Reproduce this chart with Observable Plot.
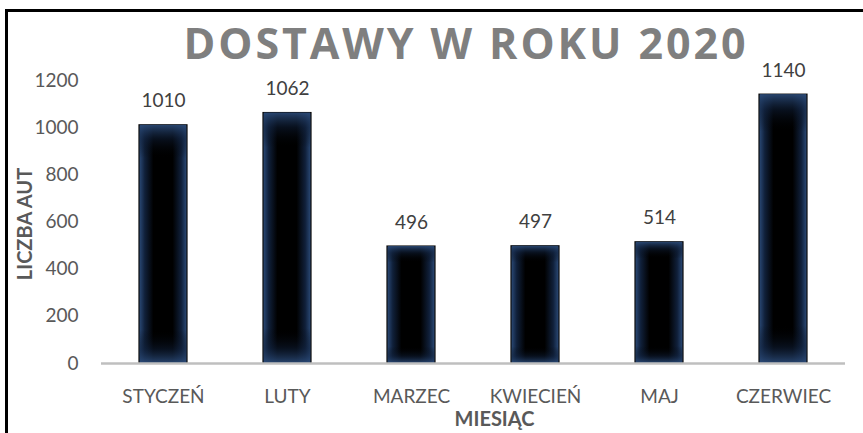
<!DOCTYPE html>
<html>
<head>
<meta charset="utf-8">
<script src="https://cdn.jsdelivr.net/npm/d3@7"></script>
<script src="https://cdn.jsdelivr.net/npm/@observablehq/plot@0.6"></script>
<style>
  html, body { margin: 0; padding: 0; background: #fff; }
  #wrap { position: relative; width: 863px; height: 433px; overflow: hidden; }
  #frame { position: absolute; left: 5px; top: 9px; right: -10px; bottom: -10px;
           border-top: 3px solid #000; border-left: 3px solid #000; pointer-events: none; }
</style>
</head>
<body>
<div id="wrap"><div id="frame"></div></div>
<script>
const months = ["STYCZEŃ", "LUTY", "MARZEC", "KWIECIEŃ", "MAJ", "CZERWIEC"];
const values = [1010, 1062, 496, 497, 514, 1140];
const yTicks = [0, 200, 400, 600, 800, 1000, 1200];
const title = "DOSTAWY W ROKU 2020";
const yLabel = "LICZBA AUT";
const xLabel = "MIESIĄC";

const data = months.map((m, i) => ({month: m, value: values[i]}));
const font = "Lato, 'Open Sans', sans-serif";

const plot = Plot.plot({
  width: 863,
  height: 433,
  marginLeft: 101,
  marginRight: 18,
  marginTop: 80,
  marginBottom: 70,
  style: {fontFamily: font, fontSize: "19px", color: "#595959", background: "transparent", overflow: "visible"},
  x: {domain: months, paddingInner: 0.61, paddingOuter: 0.305, label: null},
  y: {domain: [0, 1200], ticks: yTicks, label: null},
  marks: [
    Plot.axisY({ticks: yTicks, tickFormat: d3.format("d"), tickSize: 0, tickPadding: 23, fontSize: 19, fill: "#595959", label: null}),
    Plot.axisX({tickSize: 0, tickPadding: 26, fontSize: 19, fill: "#595959", label: null}),
    Plot.barY(data, {x: "month", y: "value", fill: "url(#gradH)", stroke: "#0b0b0b", strokeWidth: 1.2}),
    Plot.barY(data, {x: "month", y: "value", fill: "url(#gradV)", insetLeft: 1, insetRight: 1}),
    Plot.ruleY([0], {stroke: "#bfbfbf", strokeWidth: 2.5}),
    Plot.text(data, {x: "month", y: "value", text: d => String(d.value), dy: -24, fontSize: 19, fill: "#404040", lineAnchor: "middle"}),
    Plot.text([title], {frameAnchor: "top", textAnchor: "middle", lineAnchor: "middle", dy: -35, dx: -9, fontSize: 43, fontWeight: "bold", fontFamily: "'Open Sans', sans-serif", fill: "#7f7f7f", text: d => d, className: "ttl"}),
    Plot.text([yLabel], {frameAnchor: "left", textAnchor: "middle", lineAnchor: "middle", rotate: -90, dx: -76, dy: 2, fontSize: 20, fontWeight: "bold", fill: "#595959", text: d => d}),
    Plot.text([xLabel], {frameAnchor: "bottom", textAnchor: "middle", lineAnchor: "middle", dy: 56, dx: 21, fontSize: 20, fontWeight: "bold", fill: "#595959", text: d => d})
  ]
});

d3.select(plot).insert("defs", ":first-child").html(`
  <linearGradient id="gradH" x1="0" y1="0" x2="1" y2="0">
    <stop offset="0%" stop-color="#2c4c7a"/>
    <stop offset="12%" stop-color="#10203a"/>
    <stop offset="30%" stop-color="#000"/>
    <stop offset="70%" stop-color="#000"/>
    <stop offset="88%" stop-color="#10203a"/>
    <stop offset="100%" stop-color="#2c4c7a"/>
  </linearGradient>
  <linearGradient id="gradV" x1="0" y1="0" x2="0" y2="1">
    <stop offset="0%" stop-color="#2c4c7a" stop-opacity="0.9"/>
    <stop offset="6%" stop-color="#10203a" stop-opacity="0.5"/>
    <stop offset="14%" stop-color="#000" stop-opacity="0"/>
    <stop offset="86%" stop-color="#000" stop-opacity="0"/>
    <stop offset="94%" stop-color="#10203a" stop-opacity="0.5"/>
    <stop offset="100%" stop-color="#2c4c7a" stop-opacity="0.9"/>
  </linearGradient>`);

// stretch the title's letter spacing to the reference's width
d3.select(plot).selectAll(".ttl text").attr("textLength", 562).attr("lengthAdjust", "spacing");

document.getElementById("wrap").insertBefore(plot, document.getElementById("frame"));
</script>
</body>
</html>
